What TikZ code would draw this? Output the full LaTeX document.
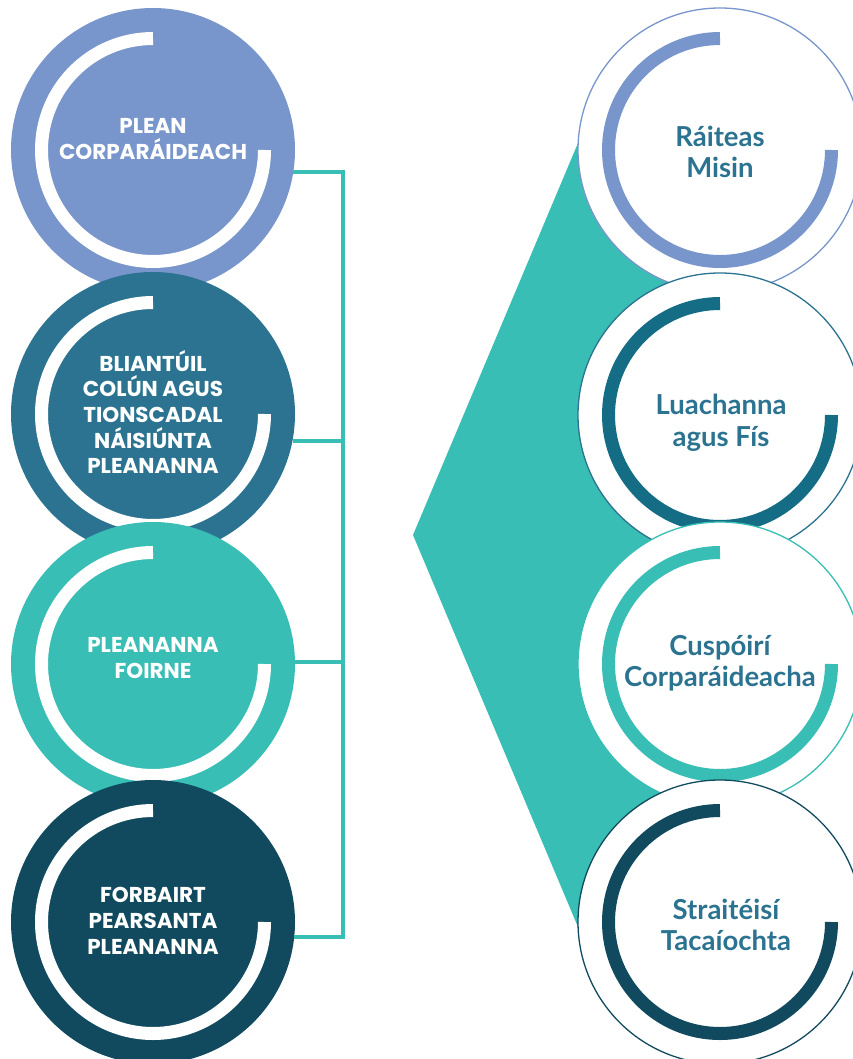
\documentclass[tikz,border=0pt]{standalone}
\usepackage{fontspec}
\newfontfamily\leftfont{Poppins}
\newfontfamily\rightfont{Lato}
\definecolor{cA}{HTML}{7896CB}
\definecolor{cB}{HTML}{2B7390}
\definecolor{cC}{HTML}{38BEB4}
\definecolor{cD}{HTML}{114A5F}
\definecolor{cBarc}{HTML}{146D85}
\definecolor{txt}{HTML}{2B7390}
\tikzset{
  lcirc/.style={circle, minimum size=284pt, inner sep=0pt},
  rcirc/.style={circle, minimum size=284pt, inner sep=0pt, fill=white, line width=1.3pt},
  ring/.style={line width=13pt},
  bracket/.style={draw=cC, line width=4pt},
  ltext/.style={text=white, align=center, font=\leftfont\bfseries\fontsize{21.5}{25.7}\selectfont},
  rtext/.style={text=txt, align=center, font=\rightfont\bfseries\fontsize{27.5}{31.5}\selectfont}
}
\begin{document}
\begin{tikzpicture}[x=1pt,y=1pt]
\useasboundingbox (0,0) rectangle (853,-1059);
% teal chevron behind right column
\fill[cC] (413,-535) -- (578,-143) -- (720,-143) -- (720,-927) -- (578,-927) -- cycle;

% left column
\node[lcirc, fill=cA] (L1) at (153,-150) {};
\draw[ring, white] ([shift={(90:111.5)}]L1.center) arc[start angle=90, end angle=360, radius=111.5];
\node[ltext] (L1t) at (153,-139) {PLEAN\\CORPARÁIDEACH};

\node[lcirc, fill=cB] (L2) at (153,-414) {};
\draw[ring, white] ([shift={(90:111.5)}]L2.center) arc[start angle=90, end angle=360, radius=111.5];
\node[ltext] (L2t) at (153,-412) {BLIANTÚIL\\COLÚN AGUS\\TIONSCADAL\\NÁISIÚNTA\\PLEANANNA};

\node[lcirc, fill=cC] (L3) at (153,-664) {};
\draw[ring, white] ([shift={(90:111.5)}]L3.center) arc[start angle=90, end angle=360, radius=111.5];
\node[ltext] (L3t) at (153,-658) {PLEANANNA\\FOIRNE};

\node[lcirc, fill=cD] (L4) at (153,-922) {};
\draw[ring, white] ([shift={(90:111.5)}]L4.center) arc[start angle=90, end angle=360, radius=111.5];
\node[ltext] (L4t) at (153,-921) {FORBAIRT\\PEARSANTA\\PLEANANNA};

% bracket
\coordinate (bx) at (342.5,0);
\draw[bracket] (L1.351) -- (L1.351 -| bx) -- (L4.354 -| bx) -- (L4.354);
\draw[bracket] (L2.349) -- (L2.349 -| bx);
\draw[bracket] (L3.1) -- (L3.1 -| bx);

% right column
\node[rcirc, draw=cA] (R1) at (720,-150) {};
\draw[ring, cA] ([shift={(90:111.5)}]R1.center) arc[start angle=90, end angle=360, radius=111.5];
\node[rtext] (R1t) at (720,-152) {Ráiteas\\Misin};

\node[rcirc, draw=cB] (R2) at (720,-415) {};
\draw[ring, cBarc] ([shift={(90:111.5)}]R2.center) arc[start angle=90, end angle=360, radius=111.5];
\node[rtext] (R2t) at (721,-423) {Luachanna\\agus Fís};

\node[rcirc, draw=cC] (R3) at (720,-664) {};
\draw[ring, cC] ([shift={(90:111.5)}]R3.center) arc[start angle=90, end angle=360, radius=111.5];
\node[rtext] (R3t) at (720,-663) {Cuspóirí\\Corparáideacha};

\node[rcirc, draw=cD] (R4) at (720,-922) {};
\draw[ring, cD] ([shift={(90:111.5)}]R4.center) arc[start angle=90, end angle=360, radius=111.5];
\node[rtext] (R4t) at (726,-925) {Straitéisí\\Tacaíochta};
\end{tikzpicture}
\end{document}
